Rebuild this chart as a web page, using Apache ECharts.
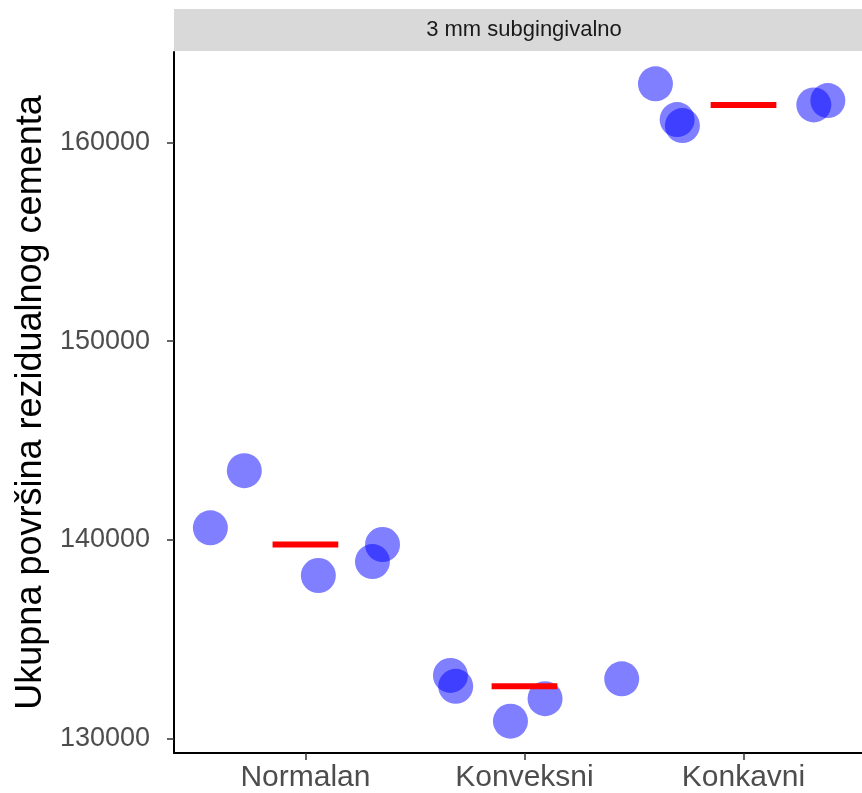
<!DOCTYPE html>
<html>
<head>
<meta charset="utf-8">
<script src="https://cdn.jsdelivr.net/npm/echarts@6/dist/echarts.min.js"></script>
<style>html,body{margin:0;padding:0;background:#fff;}#c{width:862px;height:793px;}</style>
</head>
<body>
<div id="c"></div>
<script>
const categories = ['Normalan', 'Konveksni', 'Konkavni'];
const facetLabel = '3 mm subgingivalno';
const yTicks = [130000, 140000, 150000, 160000];
// jittered x positions (1 = Normalan, 2 = Konveksni, 3 = Konkavni) and values
const normalanX = [0.566, 0.721, 1.059, 1.306, 1.352];
const normalanY = [140600, 143480, 138200, 138900, 139760];
const konveksniX = [1.662, 1.686, 1.936, 2.094, 2.444];
const konveksniY = [133170, 132620, 130870, 132000, 133000];
const konkavniX = [2.598, 2.697, 2.721, 3.321, 3.385];
const konkavniY = [162950, 161150, 160850, 161890, 162110];

const groupsX = [normalanX, konveksniX, konkavniX];
const groupsY = [normalanY, konveksniY, konkavniY];
const points = [];
groupsX.forEach((xs, g) => xs.forEach((x, i) => points.push([x, groupsY[g][i]])));
function median(a) { const s = a.slice().sort((p, q) => p - q); const m = Math.floor(s.length / 2); return s.length % 2 ? s[m] : (s[m - 1] + s[m]) / 2; }
const medians = groupsY.map((ys, g) => [g + 1, median(ys)]);

const allY = [].concat(...groupsY);
const yLo = Math.min(...allY), yHi = Math.max(...allY);
const pad = (yHi - yLo) * 0.05;
const FONT = 'Liberation Sans, Arial, sans-serif';

const chart = echarts.init(document.getElementById('c'));
chart.setOption({
  animation: false,
  grid: { left: 174, right: 0, top: 52, bottom: 40 },
  xAxis: {
    type: 'value', min: 0.4, max: 3.541,
    splitLine: { show: false },
    axisLine: { show: true, lineStyle: { color: '#000', width: 2 } },
    axisTick: { show: true, length: 7, lineStyle: { color: '#333', width: 1.5 }, customValues: [1, 2, 3] },
    axisLabel: { customValues: [1, 2, 3], formatter: v => categories[Math.round(v) - 1] || '', color: '#4d4d4d', fontSize: 30, fontFamily: FONT, margin: 10 }
  },
  yAxis: {
    type: 'value', min: yLo - pad, max: yHi + pad,
    name: 'Ukupna površina rezidualnog cementa', nameLocation: 'middle', nameGap: 124,
    nameTextStyle: { color: '#000', fontSize: 36, fontFamily: FONT },
    splitLine: { show: false },
    axisLine: { show: true, lineStyle: { color: '#000', width: 2 } },
    axisTick: { show: true, length: 7, lineStyle: { color: '#333', width: 1.5 }, customValues: yTicks },
    axisLabel: { customValues: yTicks, formatter: v => String(v), color: '#4d4d4d', fontSize: 27, fontFamily: FONT, margin: 24 }
  },
  graphic: [
    { type: 'rect', left: 174, top: 9, shape: { width: 700, height: 42 }, style: { fill: '#d9d9d9' } },
    { type: 'text', x: 524, y: 30, style: { text: facetLabel, fill: '#1a1a1a', fontSize: 22, fontFamily: FONT, align: 'center', verticalAlign: 'middle' } }
  ],
  series: [
    {
      type: 'scatter', data: points, symbolSize: 35,
      itemStyle: { color: '#0000ff', opacity: 0.5 }, z: 2
    },
    {
      type: 'custom', data: medians, z: 3,
      renderItem: function (params, api) {
        const a = api.coord([api.value(0) - 0.15, api.value(1)]);
        const b = api.coord([api.value(0) + 0.15, api.value(1)]);
        return { type: 'line', shape: { x1: a[0], y1: a[1], x2: b[0], y2: b[1] }, style: { stroke: '#ff0000', lineWidth: 6 } };
      }
    }
  ]
});
</script>
</body>
</html>
